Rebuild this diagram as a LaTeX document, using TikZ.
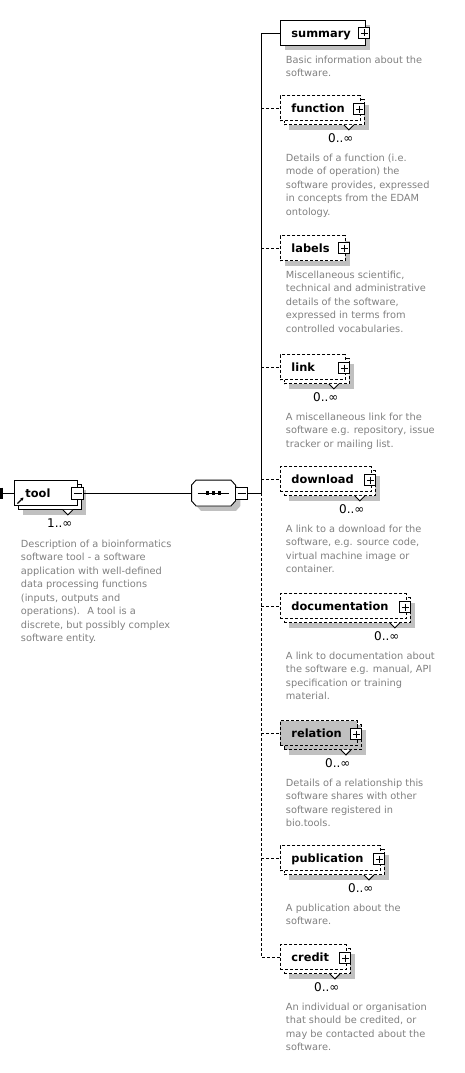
\documentclass[tikz,border=0pt]{standalone}
\usepackage{fontspec}
\setmainfont{DejaVu Sans}
\usetikzlibrary{shadows, arrows.meta}
\definecolor{descgray}{RGB}{128,128,128}
\definecolor{shadowgray}{RGB}{192,192,192}

\begin{document}
\begin{tikzpicture}[x=1pt, y=-1pt, line width=0.9pt,
    elem/.style={draw, fill=white, anchor=west, inner xsep=11pt, inner ysep=0pt,
      minimum height=25pt, text height=10pt, text depth=0.7pt, font=\fontsize{11.4}{13}\selectfont\bfseries},
    opt/.style={dash pattern=on 3pt off 2pt},
    shadowed/.style={general shadow={fill=shadowgray, shadow xshift=5pt, shadow yshift=-5pt}},
    stacked/.style={general shadow={fill=shadowgray, shadow xshift=9pt, shadow yshift=-9pt},
      general shadow={fill=#1, draw=black, solid, shadow xshift=4pt, shadow yshift=-4pt}},
    stacked/.default=white,
    optstacked/.style={general shadow={fill=shadowgray, shadow xshift=9pt, shadow yshift=-9pt},
      general shadow={fill=#1, draw=black, dash pattern=on 3pt off 2pt, shadow xshift=4pt, shadow yshift=-4pt}},
    optstacked/.default=white,
    plus/.style={draw, solid, fill=white, minimum size=11pt, inner sep=0pt,
      path picture={\draw ([xshift=2pt]path picture bounding box.west) -- ([xshift=-2pt]path picture bounding box.east)
        ([yshift=-2pt]path picture bounding box.north) -- ([yshift=2pt]path picture bounding box.south);}},
    minus/.style={draw, solid, fill=white, minimum size=12pt, inner sep=0pt,
      path picture={\draw ([xshift=2pt]path picture bounding box.west) -- ([xshift=-2pt]path picture bounding box.east);}},
    chev/.style={draw, solid, fill=white},
    occurs/.style={anchor=east, inner sep=0pt, font=\fontsize{12}{13}\selectfont},
    descr/.style={anchor=north west, align=left, inner sep=0pt, text=descgray, font=\fontsize{9.8}{13.5}\selectfont},
    seqbox/.style={minimum width=43pt, minimum height=25pt, inner sep=0pt}
  ]
  \useasboundingbox (0,0) rectangle (464,1073);

  % root element
  \coordinate (root) at (3,493);
  \draw[line width=2.5pt] (1.5,487.5) -- (1.5,498.5);
  \node[elem, stacked] (tool) at (14,493) {\makebox[41pt][l]{tool}};
  \draw[-{Stealth[length=3pt,width=3.5pt]}, line width=1.1pt] (17.5,503.5) -- (23.5,497.5);
  \node[minus] (tool-minus) at (tool.east) {};
  \draw[chev] ([xshift=-15pt,yshift=-4pt]tool.south east) -- ++(5,5) -- ++(5,-5);
  \node[occurs] (tool-n) at ([xshift=-5pt,yshift=-17pt]tool.south east) {1..∞};
  \node[descr] (tool-txt) at (20.5,539.3) {Description of a bioinformatics\\software tool - a software\\application with well-defined\\data processing functions\\(inputs, outputs and\\operations).~ A tool is a\\discrete, but possibly complex\\software entity.};
  \draw (root) -- (tool);

  % sequence
  \node[seqbox] (seq) at (213.5,493) {};
  \fill[shadowgray, transform canvas={xshift=5pt, yshift=-5pt}] ([xshift=4.5pt]seq.north west) -- ([xshift=-4.5pt]seq.north east) -- ([yshift=-5pt]seq.north east) -- ([yshift=5pt]seq.south east) -- ([xshift=-4.5pt]seq.south east) -- ([xshift=4.5pt]seq.south west) -- ([yshift=5pt]seq.south west) -- ([yshift=-5pt]seq.north west) -- cycle;
  \filldraw[fill=white] ([xshift=4.5pt]seq.north west) -- ([xshift=-4.5pt]seq.north east) -- ([yshift=-5pt]seq.north east) -- ([yshift=5pt]seq.south east) -- ([xshift=-4.5pt]seq.south east) -- ([xshift=4.5pt]seq.south west) -- ([yshift=5pt]seq.south west) -- ([yshift=-5pt]seq.north west) -- cycle;
  \draw ([xshift=6pt]seq.west) -- ([xshift=-6pt]seq.east);
  \fill ([xshift=-6pt]seq.center) +(-1.75,-1.75) rectangle +(1.75,1.75);
  \fill (seq.center) +(-1.75,-1.75) rectangle +(1.75,1.75);
  \fill ([xshift=6pt]seq.center) +(-1.75,-1.75) rectangle +(1.75,1.75);
  \node[minus] (seq-minus) at (241.5,493) {};
  \coordinate (spine) at (261,493);
  \draw (tool-minus) -- (seq);
  \draw (seq-minus) -- (spine);

  % summary
  \node[elem, shadowed] (summary) at (280,33) {\makebox[63pt][l]{summary}};
  \node[plus] (summary-plus) at ([xshift=-1.5pt]summary.east) {};
  \node[descr] (summary-txt) at (285.5,55.3) {Basic information about the\\software.};
  \draw (spine) |- (summary);

  % function
  \node[elem, opt, optstacked] (function) at (280,108) {\makebox[58pt][l]{function}};
  \node[plus] (function-plus) at ([xshift=-1.5pt,yshift=-1pt]function.east) {};
  \draw[chev] ([xshift=-17pt,yshift=-4pt]function.south east) -- ++(5,5) -- ++(5,-5);
  \node[occurs] (function-n) at ([xshift=-7pt,yshift=-17.5pt]function.south east) {0..∞};
  \node[descr] (function-txt) at (285.5,153.3) {Details of a function (i.e.\\mode of operation) the\\software provides, expressed\\in concepts from the EDAM\\ontology.};
  \draw[opt] (spine |- function) -- (function);

  % labels
  \node[elem, opt, shadowed] (labels) at (280,248) {\makebox[43pt][l]{labels}};
  \node[plus] (labels-plus) at ([xshift=-1.5pt]labels.east) {};
  \node[descr] (labels-txt) at (285.5,270.3) {Miscellaneous scientific,\\technical and administrative\\details of the software,\\expressed in terms from\\controlled vocabularies.};
  \draw[opt] (spine |- labels) -- (labels);

  % link
  \node[elem, opt, optstacked] (link) at (280,367) {\makebox[43pt][l]{link}};
  \node[plus] (link-plus) at ([xshift=-1.5pt,yshift=-1pt]link.east) {};
  \draw[chev] ([xshift=-17pt,yshift=-4pt]link.south east) -- ++(5,5) -- ++(5,-5);
  \node[occurs] (link-n) at ([xshift=-7pt,yshift=-17.5pt]link.south east) {0..∞};
  \node[descr] (link-txt) at (285.5,412.3) {A miscellaneous link for the\\software e.g. repository, issue\\tracker or mailing list.};
  \draw[opt] (spine |- link) -- (link);

  % download
  \node[elem, opt, optstacked] (download) at (280,479) {\makebox[69pt][l]{download}};
  \node[plus] (download-plus) at ([xshift=-1.5pt,yshift=-1pt]download.east) {};
  \draw[chev] ([xshift=-17pt,yshift=-4pt]download.south east) -- ++(5,5) -- ++(5,-5);
  \node[occurs] (download-n) at ([xshift=-7pt,yshift=-17.5pt]download.south east) {0..∞};
  \node[descr] (download-txt) at (285.5,524.3) {A link to a download for the\\software, e.g. source code,\\virtual machine image or\\container.};
  \draw[opt] (spine |- download) -- (download);

  % documentation
  \node[elem, opt, optstacked] (documentation) at (280,606) {\makebox[104pt][l]{documentation}};
  \node[plus] (documentation-plus) at ([xshift=-1.5pt,yshift=-1pt]documentation.east) {};
  \draw[chev] ([xshift=-17pt,yshift=-4pt]documentation.south east) -- ++(5,5) -- ++(5,-5);
  \node[occurs] (documentation-n) at ([xshift=-7pt,yshift=-17.5pt]documentation.south east) {0..∞};
  \node[descr] (documentation-txt) at (285.5,651.3) {A link to documentation about\\the software e.g. manual, API\\specification or training\\material.};
  \draw[opt] (spine |- documentation) -- (documentation);

  % relation
  \node[elem, opt, optstacked=shadowgray, fill=shadowgray] (relation) at (280,733) {\makebox[55pt][l]{relation}};
  \node[plus] (relation-plus) at ([xshift=-1.5pt,yshift=-1pt]relation.east) {};
  \draw[chev] ([xshift=-17pt,yshift=-4pt]relation.south east) -- ++(5,5) -- ++(5,-5);
  \node[occurs] (relation-n) at ([xshift=-7pt,yshift=-17.5pt]relation.south east) {0..∞};
  \node[descr] (relation-txt) at (285.5,778.3) {Details of a relationship this\\software shares with other\\software registered in\\bio.tools.};
  \draw[opt] (spine |- relation) -- (relation);

  % publication
  \node[elem, opt, optstacked] (publication) at (280,858) {\makebox[78pt][l]{publication}};
  \node[plus] (publication-plus) at ([xshift=-1.5pt,yshift=-1pt]publication.east) {};
  \draw[chev] ([xshift=-17pt,yshift=-4pt]publication.south east) -- ++(5,5) -- ++(5,-5);
  \node[occurs] (publication-n) at ([xshift=-7pt,yshift=-17.5pt]publication.south east) {0..∞};
  \node[descr] (publication-txt) at (285.5,903.3) {A publication about the\\software.};
  \draw[opt] (spine |- publication) -- (publication);

  % credit
  \node[elem, opt, optstacked] (credit) at (280,957) {\makebox[44pt][l]{credit}};
  \node[plus] (credit-plus) at ([xshift=-1.5pt,yshift=-1pt]credit.east) {};
  \draw[chev] ([xshift=-17pt,yshift=-4pt]credit.south east) -- ++(5,5) -- ++(5,-5);
  \node[occurs] (credit-n) at ([xshift=-7pt,yshift=-17.5pt]credit.south east) {0..∞};
  \node[descr] (credit-txt) at (285.5,1002.3) {An individual or organisation\\that should be credited, or\\may be contacted about the\\software.};
  \draw[opt] (spine) |- (credit);
\end{tikzpicture}
\end{document}
